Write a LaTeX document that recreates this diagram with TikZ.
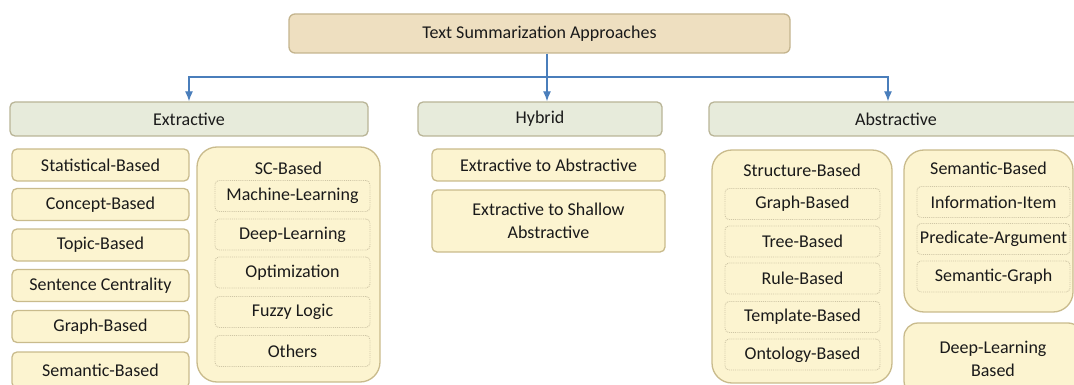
\documentclass[tikz,border=0pt]{standalone}
\usepackage{fontspec}
\setmainfont{Carlito}
\usetikzlibrary{arrows.meta}
\definecolor{rootfill}{HTML}{EEDFC0}
\definecolor{rootline}{HTML}{C4B48E}
\definecolor{headfill}{HTML}{E7EBDB}
\definecolor{headline}{HTML}{B9B597}
\definecolor{leaffill}{HTML}{FCF4D0}
\definecolor{leafline}{HTML}{C9BB8C}
\definecolor{dotline}{HTML}{CFC6A6}
\definecolor{arrowblue}{HTML}{4A7EBB}
\definecolor{txt}{HTML}{1A1A1A}
\tikzset{>={Latex[length=10pt,width=8pt]}}

\begin{document}
\begin{tikzpicture}[x=1pt,y=-1pt,font=\fontsize{18}{22.5}\selectfont,text=txt]
  \tikzstyle{rootbox}=[draw=rootline,fill=rootfill,rounded corners=6pt,line width=1.3pt,inner sep=0pt];
  \tikzstyle{headbox}=[draw=headline,fill=headfill,rounded corners=5pt,line width=1.3pt,inner sep=0pt,minimum height=34pt];
  \tikzstyle{leafbox}=[draw=leafline,fill=leaffill,rounded corners=5pt,line width=1.3pt,inner sep=0pt,align=center];
  \tikzstyle{groupbox}=[draw=leafline,fill=leaffill,rounded corners=20pt,line width=1.3pt,inner sep=0pt];
  \tikzstyle{subbox}=[draw=dotline,densely dotted,rounded corners=4pt,line width=.9pt,inner sep=0pt,minimum height=31pt];
  \tikzstyle{arr}=[->,draw=arrowblue,line width=1.3pt];
  \useasboundingbox (0,0) rectangle (1074,385);

  % top
  \node[rootbox,minimum width=501pt,minimum height=39pt] (root) at (539.5,33.5) {Text Summarization Approaches};

  % first level
  \node[headbox,minimum width=358pt] (ext) at (189,119) {Extractive};
  \node[headbox,minimum width=244pt] (hyb) at (540,119) {Hybrid};
  \node[headbox,minimum width=374pt] (abs) at (896,119) {Abstractive};

  \coordinate (fork) at (547,77);
  \coordinate (absin) at (888,77);
  \draw[arr] (root.south -| fork) -- (fork |- hyb.north);
  \draw[arr] (fork) -| (ext.north);
  \draw[arr] (fork) -- (absin) -- (absin |- abs.north);

  % extractive
  \node[leafbox,minimum width=177pt,minimum height=32pt] (stat) at (100.5,165) {Statistical-Based};
  \node[leafbox,minimum width=177pt,minimum height=32pt] (conc) at (100.5,204.5) {Concept-Based};
  \node[leafbox,minimum width=177pt,minimum height=32pt] (topic) at (100.5,245) {Topic-Based};
  \node[leafbox,minimum width=177pt,minimum height=32pt] (cent) at (100.5,285.5) {Sentence Centrality};
  \node[leafbox,minimum width=177pt,minimum height=32pt] (graph) at (100.5,326.5) {Graph-Based};
  \node[leafbox,minimum width=177pt,minimum height=36pt] (sem) at (100.5,370) {Semantic-Based};

  \node[groupbox,minimum width=183pt,minimum height=235pt] (sc) at (288.5,264.5) {};
  \node (sctitle) at (288.5,168) {SC-Based};
  \foreach \name/\y/\lbl in {ml/196/Machine-Learning,dl/234.5/Deep-Learning,opt/272.5/Optimization,fuzzy/312/Fuzzy Logic,oth/351/Others}
    \node[subbox,minimum width=155pt] (\name) at (292.5,\y) {\lbl};

  % hybrid
  \node[leafbox,minimum width=233pt,minimum height=32pt] (e2a) at (548.5,165) {Extractive to Abstractive};
  \node[leafbox,minimum width=233pt,minimum height=62pt] (e2s) at (548.5,221) {Extractive to Shallow\\Abstractive};

  % abstractive
  \node[groupbox,minimum width=180pt,minimum height=233pt] (struct) at (802,266.5) {};
  \node (structtitle) at (802,170) {Structure-Based};
  \foreach \name/\y/\lbl in {gb/204/Graph-Based,tb/241.5/Tree-Based,rb/278.5/Rule-Based,tpl/317/Template-Based,onto/354.5/Ontology-Based}
    \node[subbox,minimum width=155pt] (\name) at (802.5,\y) {\lbl};

  \node[groupbox,minimum width=169pt,minimum height=162pt] (semb) at (988.5,231) {};
  \node (sembtitle) at (988.5,168) {Semantic-Based};
  \foreach \name/\y/\lbl in {info/202/Information-Item,pred/239/Predicate-Argument,sgraph/276.5/Semantic-Graph}
    \node[subbox,minimum width=153pt] (\name) at (993.5,\y) {\lbl};

  \node[leafbox,rounded corners=14pt,minimum width=178pt,minimum height=72pt] (dlb) at (993,359) {Deep-Learning\\Based};
\end{tikzpicture}
\end{document}
